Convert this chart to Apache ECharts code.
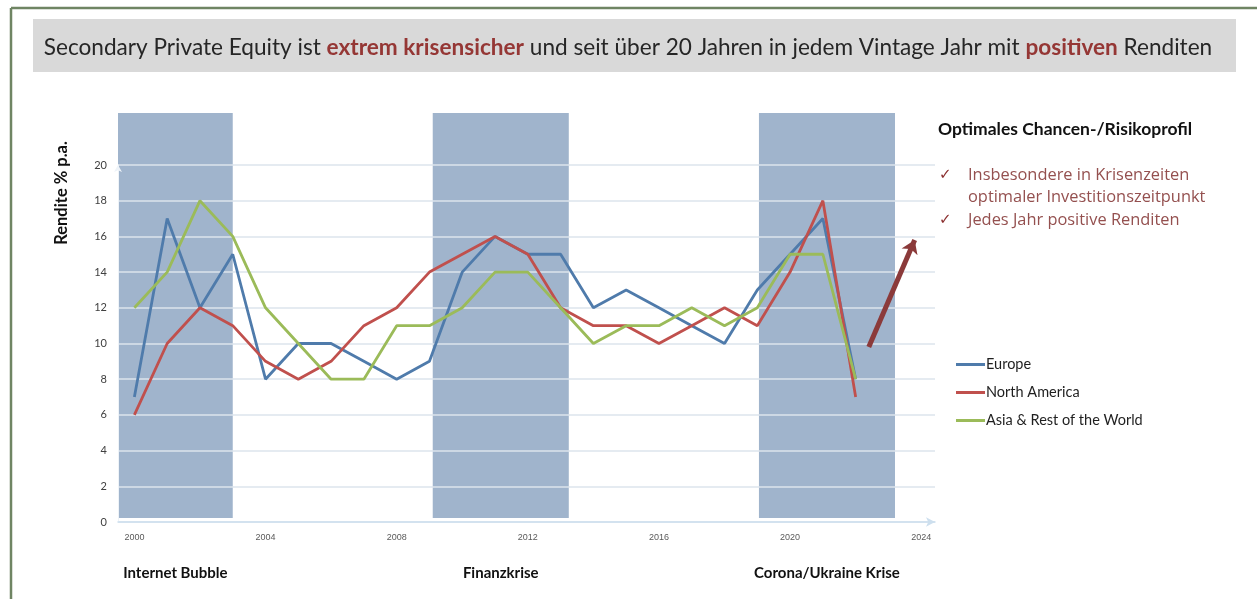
<!DOCTYPE html>
<html>
<head>
<meta charset="utf-8">
<script src="https://cdn.jsdelivr.net/npm/echarts@6/dist/echarts.min.js"></script>
<style>
  html, body { margin: 0; padding: 0; background: #ffffff; }
  #chart { width: 1257px; height: 599px; }
</style>
</head>
<body>
<div id="chart"></div>
<script>
// ---- data ----
const years = [2000,2001,2002,2003,2004,2005,2006,2007,2008,2009,2010,2011,2012,2013,2014,2015,2016,2017,2018,2019,2020,2021,2022];
const europe       = [7,17,12,15,8,10,10,9,8,9,14,16,15,15,12,13,12,11,10,13,15,17,8];
const northAmerica = [6,10,12,11,9,8,9,11,12,14,15,16,15,12,11,11,10,11,12,11,14,18,7];
const asiaRest     = [12,14,18,16,12,10,8,8,11,11,12,14,14,12,10,11,11,12,11,12,15,15,8];
const seriesNames  = ['Europe', 'North America', 'Asia & Rest of the World'];
const xTickLabels  = [2000, 2004, 2008, 2012, 2016, 2020, 2024];
const yTickLabels  = [0, 2, 4, 6, 8, 10, 12, 14, 16, 18, 20];
const crisisStart  = [1999.5, 2009.1, 2019.05];
const crisisEnd    = [2003, 2013.25, 2023.2];
const crisisLabels = ['Internet Bubble', 'Finanzkrise', 'Corona/Ukraine Krise'];
const arrowStart   = [2022.4, 9.8];
const arrowEnd     = [2023.8, 15.8];
const titlePlain1  = 'Secondary Private Equity ist ';
const titleBold1   = 'extrem krisensicher';
const titlePlain2  = ' und seit über 20 Jahren in jedem Vintage Jahr mit ';
const titleBold2   = 'positiven';
const titlePlain3  = ' Renditen';
const sideHeading  = 'Optimales Chancen-/Risikoprofil';
const sideBullets  = [['Insbesondere in Krisenzeiten', 'optimaler Investitionszeitpunkt'], ['Jedes Jahr positive Renditen']];
const yAxisTitle   = 'Rendite % p.a.';

const colors = ['#4f7bab', '#c0504d', '#9bbb59'];
const FONT = 'Lato, "Open Sans", sans-serif';

const pair = (xs, ys) => xs.map((x, i) => [x, ys[i]]);

const chart = echarts.init(document.getElementById('chart'), null, { renderer: 'canvas' });

// side text graphics
const sideGraphics = [];
sideGraphics.push({
  type: 'text', left: 938, top: 120, z: 10,
  style: { text: sideHeading, font: 'bold 17.5px ' + FONT, fill: '#111111' }
});
let lineY = 167;
sideBullets.forEach(b => {
  sideGraphics.push({
    type: 'text', left: 939, top: lineY + 1, z: 10,
    style: { text: '\u2713', font: '15px "DejaVu Sans", sans-serif', fill: '#8b2f2f' }
  });
  b.forEach(t => {
    sideGraphics.push({
      type: 'text', left: 968, top: lineY, z: 10,
      style: { text: t, font: '16.4px "Open Sans", sans-serif', fill: '#94504f' }
    });
    lineY += 22.5;
  });
});

const option = {
  backgroundColor: '#ffffff',
  animation: false,
  textStyle: { fontFamily: FONT },
  grid: [
    { left: 118, right: 322, top: 113, bottom: 81 },
    { left: 118, right: 322, top: 165, bottom: 77 }
  ],
  xAxis: [
    { gridIndex: 0, type: 'value', min: 1999.5, max: 2024.42, show: false },
    {
      gridIndex: 1, type: 'value', min: 1999.5, max: 2024.42, z: 3,
      axisLine: { show: true, lineStyle: { color: '#cddfee', width: 1.5 }, symbol: ['none', 'arrow'], symbolSize: [7, 9] },
      axisTick: { show: false },
      splitLine: { show: false },
      axisLabel: {
        customValues: xTickLabels, margin: 11,
        fontSize: 9, color: '#5a5a5a', fontFamily: '"Liberation Sans Narrow", "Liberation Sans", sans-serif',
        formatter: v => String(v)
      }
    }
  ],
  yAxis: [
    { gridIndex: 0, type: 'value', min: 0, max: 1, show: false },
    {
      gridIndex: 1, type: 'value', min: 0, max: 20, interval: 2, z: 3,
      axisLine: { show: true, lineStyle: { color: '#eef3f8', width: 1 }, symbol: ['none', 'arrow'], symbolSize: [6, 7] },
      axisTick: { show: false },
      splitLine: { show: true, lineStyle: { color: '#dde5ed', width: 1.5 } },
      axisLabel: {
        customValues: yTickLabels, margin: 11, fontSize: 11, color: '#404040', fontFamily: FONT
      }
    }
  ],
  legend: {
    data: seriesNames,
    orient: 'vertical', left: 951, top: 352,
    itemWidth: 29, itemHeight: 3, itemGap: 13,
    icon: 'rect',
    textStyle: { fontSize: 14.5, color: '#1f1f1f', fontFamily: FONT, padding: [0, 0, 0, -4] },
    selectedMode: false
  },
  graphic: [
    { type: 'line', shape: { x1: 11, y1: 8, x2: 1257, y2: 8 }, style: { stroke: '#6f8563', lineWidth: 2.5 }, z: 10 },
    { type: 'line', shape: { x1: 11, y1: 8, x2: 11, y2: 599 }, style: { stroke: '#6f8563', lineWidth: 2.5 }, z: 10 },
    { type: 'rect', shape: { x: 33, y: 19, width: 1203, height: 53 }, style: { fill: '#d9d9d9' }, z: 9 },
    {
      type: 'text', x: 628, y: 48, z: 10,
      style: {
        text: titlePlain1 + '{b|' + titleBold1 + '}' + titlePlain2 + '{b|' + titleBold2 + '}' + titlePlain3,
        font: '22.6px ' + FONT, fill: '#262626', align: 'center', verticalAlign: 'middle',
        rich: { b: { font: 'bold 22.6px ' + FONT, fill: '#953735' } }
      }
    },
    {
      type: 'text', x: 62, y: 193, rotation: Math.PI / 2, z: 10,
      style: { text: yAxisTitle, font: 'bold 16.5px ' + FONT, fill: '#111111', align: 'center', verticalAlign: 'middle' }
    }
  ].concat(sideGraphics),
  series: [
    {
      name: 'bands', type: 'line', xAxisIndex: 0, yAxisIndex: 0, data: [], z: 1,
      markArea: {
        silent: true,
        itemStyle: { color: '#a0b4cc' },
        label: {
          show: true, position: 'bottom', distance: 48,
          fontSize: 15, fontWeight: 'bold', color: '#111111', fontFamily: FONT
        },
        data: crisisStart.map((s, i) => [{ xAxis: s, name: crisisLabels[i] }, { xAxis: crisisEnd[i] }])
      }
    },
    {
      name: seriesNames[0], type: 'line', xAxisIndex: 1, yAxisIndex: 1, z: 5,
      data: pair(years, europe), symbol: 'none', color: colors[0],
      lineStyle: { width: 2.8, color: colors[0] }
    },
    {
      name: seriesNames[1], type: 'line', xAxisIndex: 1, yAxisIndex: 1, z: 5,
      data: pair(years, northAmerica), symbol: 'none', color: colors[1],
      lineStyle: { width: 2.8, color: colors[1] }
    },
    {
      name: seriesNames[2], type: 'line', xAxisIndex: 1, yAxisIndex: 1, z: 5,
      data: pair(years, asiaRest), symbol: 'none', color: colors[2],
      lineStyle: { width: 2.8, color: colors[2] }
    },
    {
      name: 'arrow', type: 'lines', coordinateSystem: 'cartesian2d', xAxisIndex: 1, yAxisIndex: 1, z: 6,
      symbol: ['none', 'arrow'], symbolSize: 13,
      lineStyle: { color: '#8b3a3a', width: 5, opacity: 1 },
      data: [{ coords: [arrowStart, arrowEnd] }]
    }
  ]
};
chart.setOption(option);
</script>
</body>
</html>
